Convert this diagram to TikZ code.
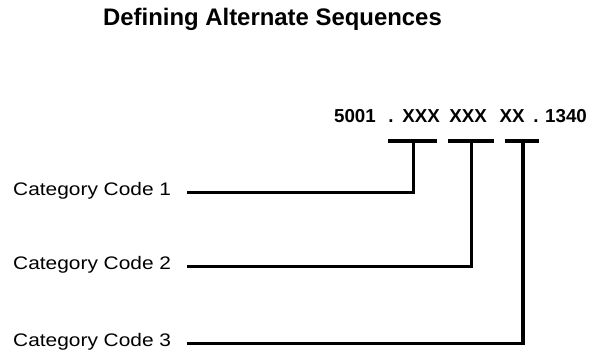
\documentclass[tikz,border=0pt]{standalone}
\usepackage{fontspec}
\setmainfont{Liberation Sans}
\newfontfamily\catfont[FakeStretch=1.15]{Liberation Sans}
\usepackage{tikz}
\usetikzlibrary{calc}

\begin{document}
\begin{tikzpicture}[
          x=0.03cm, y=-0.03cm,
          title/.style={anchor=base, inner sep=0pt,
                        font=\fontsize{20.4}{24}\selectfont\bfseries},
          code/.style={anchor=base, inner sep=0pt,
                       font=\fontsize{16}{19}\selectfont\bfseries},
          cat/.style={anchor=base west, inner sep=0pt,
                      font=\catfont\fontsize{15.5}{18}\selectfont},
          link/.style={draw=black, line width=2.6pt}
        ]
        \useasboundingbox (0,0) rectangle (590,352);

        \node[title] (head) at (272.5,25) {Defining Alternate Sequences};

        % account number, split into its segments
        \node[code] (obj)  at (355,122)   {5001};
        \node[code] (dotA) at (391,122)   {.};
        \node[code] (segA) at (421,122)   {XXX};
        \node[code] (segB) at (468,122)   {XXX};
        \node[code] (segC) at (512,122)   {XX};
        \node[code] (dotB) at (536,122)   {.};
        \node[code] (sub)  at (566,122)   {1340};

        \node[cat] (cat1) at (13,195) {Category Code 1};
        \node[cat] (cat2) at (13,269) {Category Code 2};
        \node[cat] (cat3) at (13,346) {Category Code 3};

        % brackets under the segments
        \coordinate (tA) at (413.5,141);
        \coordinate (tB) at (471.5,141);
        \coordinate (tC) at (523,141);
        \draw[link] ($(tA)+(-25.5,0)$) -- ($(tA)+(23.5,0)$);
        \draw[link] ($(tB)+(-23.5,0)$) -- ($(tB)+(22.5,0)$);
        \draw[link] ($(tC)+(-18,0)$)   -- ($(tC)+(16,0)$);

        \draw[link] (tA) |- ([xshift=13pt,yshift=2.5pt]cat1.base east);
        \draw[link] (tB) |- ([xshift=13pt,yshift=2.5pt]cat2.base east);
        \draw[link] (tC) |- ([xshift=13pt,yshift=2.5pt]cat3.base east);
      \end{tikzpicture}
\end{document}
